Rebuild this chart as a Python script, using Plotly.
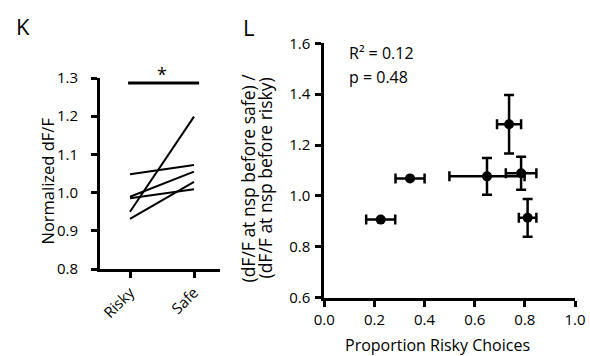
import plotly.graph_objects as go

# Panel K data
k_categories = ["Risky", "Safe"]
k_risky = [0.95, 1.048, 0.989, 0.985, 0.931]
k_safe = [1.199, 1.072, 1.055, 1.009, 1.028]
k_yticks = [0.8, 0.9, 1.0, 1.1, 1.2, 1.3]
k_sig_y = 1.287

# Panel L data
l_x = [0.225, 0.342, 0.649, 0.785, 0.737, 0.811]
l_y = [0.907, 1.069, 1.077, 1.089, 1.282, 0.914]
l_xerr = [0.058, 0.058, 0.15, 0.061, 0.048, 0.035]
l_yerr = [0.0, 0.0, 0.072, 0.065, 0.115, 0.074]
l_xticks = [0.0, 0.2, 0.4, 0.6, 0.8, 1.0]
l_yticks = [0.6, 0.8, 1.0, 1.2, 1.4, 1.6]

FONT = "Open Sans"
W, H = 590, 356


def px(x):
    return x / W


def py(y):
    return 1 - y / H


fig = go.Figure()

for r, s in zip(k_risky, k_safe):
    fig.add_trace(go.Scatter(x=[0, 1], y=[r, s], mode="lines",
                             line=dict(color="black", width=2),
                             xaxis="x", yaxis="y", showlegend=False, hoverinfo="skip"))

fig.add_trace(go.Scatter(
    x=l_x, y=l_y, mode="markers",
    marker=dict(color="black", size=10),
    error_x=dict(type="data", array=l_xerr, color="black", thickness=2.5, width=5),
    error_y=dict(type="data", array=l_yerr, color="black", thickness=2.5, width=5),
    xaxis="x2", yaxis="y2", showlegend=False))

axis_common = dict(showline=True, linecolor="black", linewidth=3, ticks="outside",
                   tickwidth=3, ticklen=6, tickcolor="black", showgrid=False, zeroline=False,
                   automargin=False,
                   tickfont=dict(family=FONT, size=15, color="black"))

fig.update_layout(
    width=W, height=H, margin=dict(l=0, r=0, t=0, b=0, autoexpand=False),
    paper_bgcolor="white", plot_bgcolor="white",
    xaxis=dict(domain=[px(100), px(220)], range=[-30 / 64, 90 / 64],
               tickvals=[0, 1], ticktext=k_categories, tickangle=-45, anchor="y",
               **axis_common),
    yaxis=dict(domain=[py(269), py(78)], range=[0.8, 1.3],
               tickvals=k_yticks, tickformat=".1f", anchor="x", ticklabelstandoff=10,
               **axis_common),
    xaxis2=dict(domain=[px(324.3), px(575)], range=[0, 1], tickvals=l_xticks, tickformat=".1f",
                anchor="y2", **axis_common),
    yaxis2=dict(domain=[py(297.7), py(43.3)], range=[0.6, 1.6], tickvals=l_yticks,
                tickformat=".1f", anchor="x2", ticklabelstandoff=2,
                **axis_common),
)

fig.add_shape(type="line", xref="x", yref="y", x0=-0.03, x1=1.08, y0=k_sig_y, y1=k_sig_y,
              line=dict(color="black", width=3))
fig.add_annotation(x=0.5, y=k_sig_y, xref="x", yref="y", text="*", showarrow=False,
                   yanchor="bottom", yshift=-5, font=dict(family=FONT, size=18, color="black"))


def paper_text(text, x, y, size, angle=0, xanchor="center"):
    fig.add_annotation(x=px(x), y=py(y), xref="paper", yref="paper", text=text,
                       showarrow=False, textangle=angle, xanchor=xanchor, yanchor="middle",
                       font=dict(family=FONT, size=size, color="black"))


paper_text("K", 14, 26, 22, xanchor="left")
paper_text("L", 241, 27, 22, xanchor="left")
paper_text("R² = 0.12", 347, 53, 16, xanchor="left")
paper_text("p = 0.48", 347, 77, 16, xanchor="left")
paper_text("Normalized dF/F", 46.5, 181, 16.5, angle=-90)
paper_text("(dF/F at nsp before safe) /", 247.5, 178, 17.5, angle=-90)
paper_text("(dF/F at nsp before risky)", 264.5, 178, 17.5, angle=-90)
paper_text("Proportion Risky Choices", 437, 345, 16)

fig.write_html(
    "out.html",
    config={"displayModeBar": False},
    post_script="document.body.style.margin='0';document.body.style.overflow='hidden';",
)
